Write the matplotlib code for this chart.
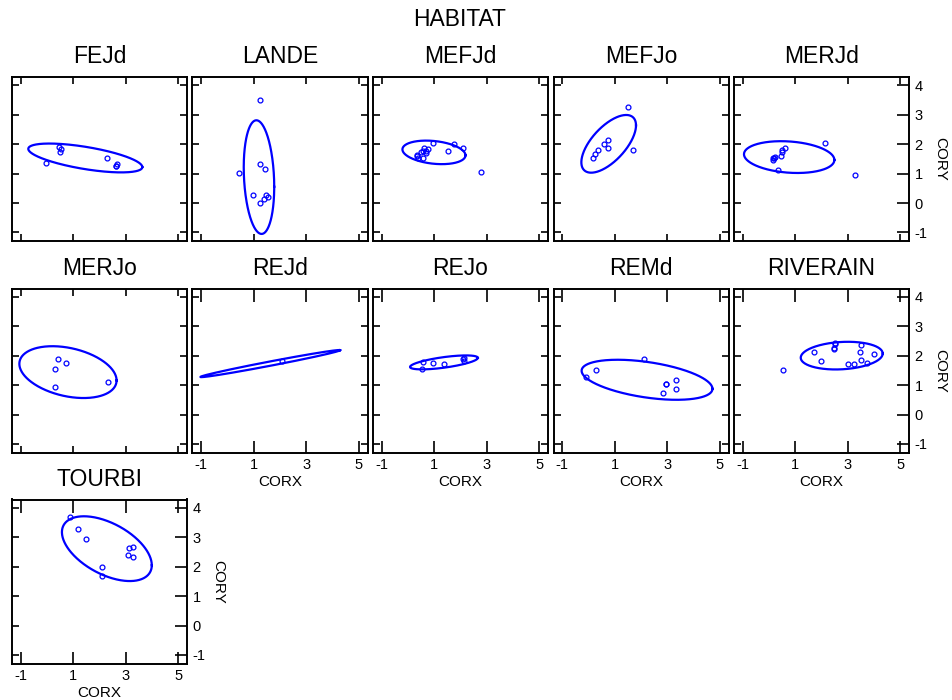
import numpy as np
import matplotlib
matplotlib.use("Agg")
import matplotlib.pyplot as plt

plt.rcParams['font.family'] = ['Liberation Sans', 'DejaVu Sans']
plt.rcParams['axes.unicode_minus'] = False

habitats = ["FEJd", "LANDE", "MEFJd", "MEFJo", "MERJd",
            "MERJo", "REJd", "REJo", "REMd", "RIVERAIN", "TOURBI"]

fejd_x = [-0.05, 0.46, 0.54, 0.49, 2.29, 2.67, 2.62, 2.61]
fejd_y = [1.35, 1.91, 1.82, 1.73, 1.53, 1.34, 1.27, 1.25]
lande_x = [1.23, 1.23, 1.43, 0.43, 0.96, 1.25, 1.46, 1.54, 1.41]
lande_y = [3.49, 1.31, 1.17, 1.03, 0.26, 0.00, 0.26, 0.21, 0.15]
mefjd_x = [0.97, 1.77, 2.09, 1.51, 0.61, 0.78, 0.68, 0.56, 0.67, 0.49, 0.35, 0.33, 0.38, 0.56, 2.77]
mefjd_y = [2.03, 1.99, 1.87, 1.78, 1.88, 1.83, 1.78, 1.76, 1.69, 1.72, 1.64, 1.59, 1.54, 1.54, 1.04]
mefjo_x = [1.49, 0.76, 0.59, 0.75, 1.70, 0.38, 0.25, 0.16]
mefjo_y = [3.25, 2.13, 1.99, 1.86, 1.79, 1.81, 1.68, 1.52]
merjd_x = [2.13, 0.62, 0.49, 0.48, 0.44, 0.23, 0.19, 0.16, 0.15, 0.34, 3.28]
merjd_y = [2.03, 1.86, 1.79, 1.72, 1.59, 1.57, 1.53, 1.47, 1.53, 1.12, 0.95]
merjo_x = [0.41, 0.71, 0.32, 0.29, 2.32]
merjo_y = [1.87, 1.74, 1.54, 0.92, 1.12]
rejd_x = [2.08]
rejd_y = [1.83]
rejo_x = [0.57, 0.94, 1.37, 0.52, 2.13, 2.15, 2.11]
rejo_y = [1.77, 1.74, 1.71, 1.55, 1.91, 1.82, 1.87]
remd_x = [2.13, 0.27, -0.09, 2.96, 2.97, 3.32, 3.34, 2.85]
remd_y = [1.88, 1.51, 1.29, 1.05, 1.03, 1.16, 0.85, 0.73]
riverain_x = [0.52, 1.73, 1.97, 2.46, 2.46, 2.51, 2.50, 3.52, 3.46, 4.00, 3.52, 3.01, 3.24, 3.73]
riverain_y = [1.51, 2.13, 1.81, 2.25, 2.23, 2.39, 2.43, 2.36, 2.13, 2.06, 1.84, 1.72, 1.70, 1.74]
tourbi_x = [0.88, 1.20, 1.49, 3.11, 3.26, 3.09, 3.26, 2.10, 2.10]
tourbi_y = [3.67, 3.29, 2.94, 2.62, 2.68, 2.39, 2.32, 2.00, 1.67]

# ellipse parameters (centre, half extents along x / y, correlation)
ell_cx = [1.46, 1.20, 0.99, 0.77, 0.77, 0.80, 1.63, 1.37, 2.23, 2.77, 2.28]
ell_cy = [1.53, 0.88, 1.72, 2.01, 1.56, 1.44, 1.73, 1.77, 1.18, 2.00, 2.61]
ell_sx = [2.17, 0.58, 1.20, 1.04, 1.72, 1.85, 2.66, 1.29, 2.49, 1.56, 1.71]
ell_sy = [0.49, 1.93, 0.40, 0.98, 0.54, 0.88, 0.46, 0.237, 0.68, 0.47, 1.10]
ell_r = [-0.63, -0.17, -0.25, 0.64, -0.18, -0.32, 0.987, 0.65, -0.45, 0.15, -0.51]

xs = [fejd_x, lande_x, mefjd_x, mefjo_x, merjd_x, merjo_x, rejd_x, rejo_x, remd_x, riverain_x, tourbi_x]
ys = [fejd_y, lande_y, mefjd_y, mefjo_y, merjd_y, merjo_y, rejd_y, rejo_y, remd_y, riverain_y, tourbi_y]

x_ticks = [-1, 1, 3, 5]
y_ticks = [-1, 0, 1, 2, 3, 4]

W, H = 953, 700
fig = plt.figure(figsize=(W / 100, H / 100), dpi=100)

col_left = [12, 192.5, 373, 553.5, 734]
row_top = [77, 288.5, 499.5]
aw, ah = 175, 164
blue = '#0000FF'

xlab_panels = {6, 7, 8, 9, 10}
ylab_panels = {4, 9, 10}

for i, name in enumerate(habitats):
    r, c = divmod(i, 5)
    left = col_left[c] / W
    bottom = 1 - (row_top[r] + ah) / H
    ax = fig.add_axes([left, bottom, aw / W, ah / H])
    ax.set_xlim(-1.33, 5.33)
    ax.set_ylim(-1.29, 4.28)
    ax.set_xticks(x_ticks)
    ax.set_yticks(y_ticks)
    for s in ax.spines.values():
        s.set_linewidth(1.4)
    ax.tick_params(which='both', direction='in', length=5, width=1.2,
                   top=True, bottom=True, left=True, right=True,
                   labelleft=False, labelbottom=False, labelright=False,
                   labelsize=10.5, pad=4)
    if i in xlab_panels:
        ax.tick_params(axis='x', which='both', labelbottom=True)
        ax.tick_params(axis='x', which='both', direction='inout', length=9)
        ax.tick_params(axis='x', top=True, direction='in')
        ax.set_xlabel("CORX", fontsize=11, labelpad=2)
    if i in ylab_panels:
        ax.tick_params(axis='y', which='both', labelright=True)
        ax.yaxis.set_tick_params(which='both', right=True)
        for t in ax.yaxis.get_major_ticks():
            t.tick2line.set_marker(matplotlib.lines.TICKLEFT)
            t.tick2line.set_markersize(9)
        ax.yaxis.set_label_position('right')
        ax.set_ylabel("CORY", fontsize=11, rotation=270, labelpad=14)
    ax.set_title(name, fontsize=16.5, pad=10)

    t = np.linspace(0, 2 * np.pi, 400)
    ex = ell_cx[i] + ell_sx[i] * np.cos(t)
    ey = ell_cy[i] + ell_sy[i] * (ell_r[i] * np.cos(t) + np.sqrt(1 - ell_r[i] ** 2) * np.sin(t))
    ax.plot(ex, ey, color=blue, lw=1.6)
    ax.plot(xs[i], ys[i], linestyle='none', marker='o', ms=3.5,
            mfc='none', mec=blue, mew=0.9)

fig.text(460 / W, 1 - 20 / H, "HABITAT", fontsize=16.5, ha='center', va='center')

fig.savefig("out.png", dpi=100)
